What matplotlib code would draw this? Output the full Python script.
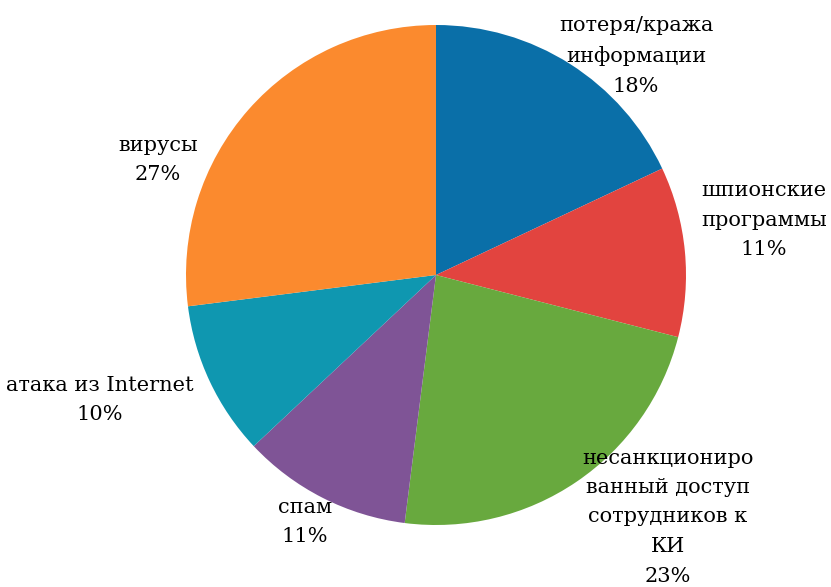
import matplotlib.pyplot as plt

categories = ['потеря/кража\nинформации', 'шпионские\nпрограммы',
              'несанкциониро\nванный доступ\nсотрудников к\nКИ', 'спам',
              'атака из Internet', 'вирусы']
shares = [18, 11, 23, 11, 10, 27]
colors = ['#0a6fa8', '#e2443f', '#68a93e', '#7f5496', '#0f97b0', '#fb8a2e']

# label block centres, in pie-radius units
label_pos = [(0.80, 0.876), (1.312, 0.22), (0.928, -0.968),
             (-0.524, -0.988), (-1.344, -0.50), (-1.112, 0.46)]

fig = plt.figure(figsize=(8.31, 5.87), dpi=100)
ax = fig.add_axes([0, 0, 1, 1])

ax.pie(shares, colors=colors, startangle=90, counterclock=False,
       radius=1.0, center=(0, 0))

for name, val, (x, y) in zip(categories, shares, label_pos):
    ax.text(x, y, f'{name}\n{val}%', ha='center', va='center',
            fontsize=15, family='DejaVu Serif', linespacing=1.7)

ax.set_aspect('auto')
ax.set_xlim(-436 / 250, (831 - 436) / 250)
ax.set_ylim(-(587 - 275) / 250, 275 / 250)
ax.axis('off')

fig.savefig('out.png', dpi=100)
